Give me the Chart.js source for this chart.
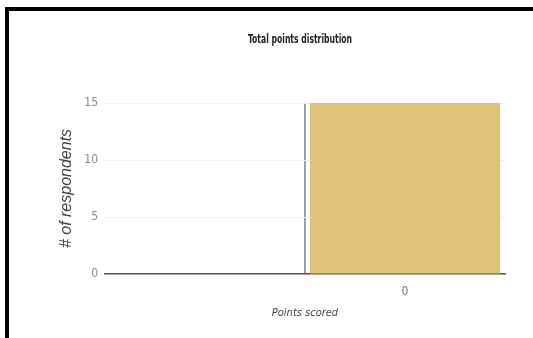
<!DOCTYPE html>
<html>
<head>
<meta charset="utf-8">
<title>Total points distribution</title>
<script src="https://cdn.jsdelivr.net/npm/chart.js@4.4.1/dist/chart.umd.min.js"></script>
<style>
    html, body { margin: 0; padding: 0; background: #fff; overflow: hidden; }
    #wrap { position: relative; width: 533px; height: 338px; }
    #frame {
        position: absolute; left: 5px; top: 7px;
        width: 600px; height: 400px;
        border: 4px solid #000; box-sizing: border-box;
    }
    #chart { position: absolute; left: 0; top: 0; }
</style>
</head>
<body>
<div id="wrap">
    <canvas id="chart" width="533" height="338"></canvas>
    <div id="frame"></div>
</div>
<script>
// chart data
const titleText = 'Total points distribution';
const categories = ['', '0'];          // first slot is empty, bar sits in the second
const respondents = [null, 15];
const yTickStep = 5;
const yMax = 15;
const xAxisTitle = 'Points scored';
const yAxisTitle = '# of respondents';

const NARROW = "'Liberation Sans Narrow', 'DejaVu Sans Condensed', 'Liberation Sans', Arial, sans-serif";
const REGULAR = "'Liberation Sans', Arial, sans-serif";

// draws the title centred over the plot area, squeezed like the original narrow font
const chartTitle = {
    id: 'chartTitle',
    afterDraw(chart) {
        const { ctx, chartArea } = chart;
        ctx.save();
        ctx.font = 'bold 13px ' + NARROW;
        ctx.fillStyle = '#222';
        ctx.textAlign = 'center';
        ctx.textBaseline = 'middle';
        ctx.fillText(titleText, (chartArea.left + chartArea.right) / 2 - 5, 40, 104);
        ctx.restore();
    }
};

const ctx = document.getElementById('chart').getContext('2d');

new Chart(ctx, {
    type: 'bar',
    data: {
        labels: categories,
        datasets: [{
            data: respondents,
            backgroundColor: '#e0c279',
            borderWidth: 0,
            categoryPercentage: 1,
            barPercentage: 0.95
        }]
    },
    options: {
        responsive: false,
        animation: false,
        layout: {
            padding: { left: 0, right: 28, top: 103, bottom: 0 }
        },
        plugins: {
            legend: { display: false },
            tooltip: { enabled: false }
        },
        scales: {
            x: {
                afterFit(scale) { scale.height = 64; },
                grid: {
                    offset: true,
                    drawTicks: false,
                    lineWidth: 2,
                    color: (c) => c.index === 1 ? '#a0a0a0' : 'rgba(0,0,0,0)'
                },
                border: { display: true, color: '#555', width: 1.5 },
                ticks: {
                    padding: 11,
                    color: '#777',
                    font: { family: NARROW, size: 12 }
                },
                title: {
                    display: true,
                    text: xAxisTitle,
                    color: '#444',
                    padding: { top: 0, bottom: 18 },
                    font: { family: NARROW, size: 11, style: 'italic' }
                }
            },
            y: {
                min: 0,
                max: yMax,
                afterFit(scale) { scale.width = 105; },
                grid: {
                    drawTicks: false,
                    color: '#efefef',
                    lineWidth: 1
                },
                border: { display: false },
                ticks: {
                    stepSize: yTickStep,
                    padding: 7,
                    color: '#8a8a8a',
                    font: { family: NARROW, size: 12 }
                },
                title: {
                    display: true,
                    text: yAxisTitle,
                    color: '#444',
                    padding: { top: 57, bottom: 0 },
                    font: { family: REGULAR, size: 16, style: 'italic' }
                }
            }
        }
    },
    plugins: [chartTitle]
});
</script>
</body>
</html>
